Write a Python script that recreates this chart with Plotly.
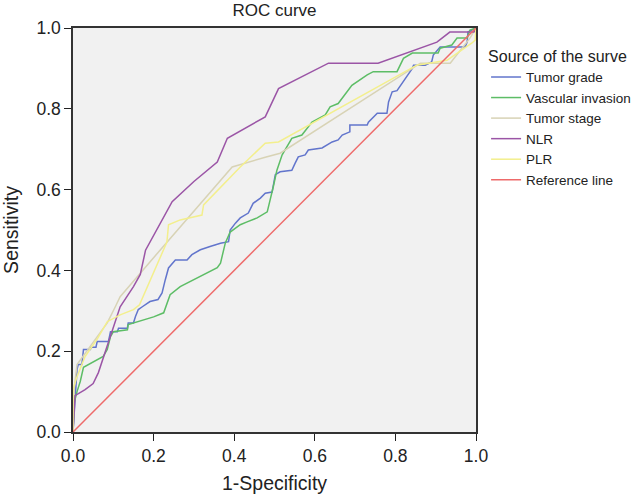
import plotly.graph_objects as go

# ROC points as (1-Specificity, Sensitivity)
tumor_grade = [(0, 0), (0.003, 0.05), (0.006, 0.097), (0.01, 0.155), (0.013, 0.167), (0.022, 0.167),
               (0.026, 0.204), (0.043, 0.204), (0.045, 0.21), (0.057, 0.21), (0.06, 0.224), (0.088, 0.224),
               (0.093, 0.248), (0.11, 0.248), (0.113, 0.257), (0.135, 0.257), (0.137, 0.27), (0.15, 0.27),
               (0.155, 0.286), (0.162, 0.303), (0.172, 0.31), (0.191, 0.323), (0.211, 0.328), (0.221, 0.344),
               (0.229, 0.377), (0.237, 0.406), (0.254, 0.426), (0.283, 0.426), (0.295, 0.439), (0.316, 0.451),
               (0.34, 0.459), (0.366, 0.467), (0.386, 0.471), (0.39, 0.5), (0.403, 0.517), (0.415, 0.53),
               (0.435, 0.542), (0.447, 0.566), (0.465, 0.579), (0.477, 0.591), (0.494, 0.594), (0.502, 0.637),
               (0.514, 0.644), (0.543, 0.648), (0.551, 0.665), (0.559, 0.681), (0.576, 0.686), (0.584, 0.698),
               (0.618, 0.703), (0.643, 0.718), (0.658, 0.723), (0.668, 0.735), (0.687, 0.743), (0.687, 0.76),
               (0.73, 0.76), (0.733, 0.767), (0.755, 0.789), (0.779, 0.789), (0.783, 0.817), (0.792, 0.842),
               (0.804, 0.845), (0.816, 0.863), (0.829, 0.882), (0.842, 0.9), (0.845, 0.908), (0.874, 0.908),
               (0.89, 0.916), (0.894, 0.933), (0.911, 0.953), (0.973, 0.953), (0.978, 0.965), (0.98, 0.99),
               (1.0, 1.0)]

vascular_invasion = [(0, 0), (0.003, 0.072), (0.01, 0.1), (0.018, 0.125), (0.026, 0.16), (0.048, 0.172),
                     (0.075, 0.187), (0.085, 0.204), (0.093, 0.236), (0.1, 0.248), (0.135, 0.253), (0.137, 0.266),
                     (0.16, 0.273), (0.2, 0.285), (0.225, 0.295), (0.229, 0.307), (0.241, 0.34), (0.266, 0.36),
                     (0.3, 0.377), (0.324, 0.39), (0.358, 0.407), (0.366, 0.418), (0.378, 0.468), (0.39, 0.495),
                     (0.415, 0.513), (0.432, 0.52), (0.457, 0.53), (0.482, 0.545), (0.49, 0.575), (0.497, 0.607),
                     (0.506, 0.648), (0.519, 0.686), (0.543, 0.727), (0.568, 0.735), (0.593, 0.767), (0.626, 0.785),
                     (0.638, 0.805), (0.658, 0.813), (0.692, 0.858), (0.73, 0.884), (0.745, 0.892), (0.804, 0.892),
                     (0.82, 0.925), (0.842, 0.938), (0.906, 0.938), (0.911, 0.95), (0.94, 0.958), (0.953, 0.975),
                     (0.978, 0.975), (0.985, 0.995), (1.0, 1.0)]

tumor_stage = [(0, 0), (0.003, 0.11), (0.01, 0.167), (0.085, 0.27), (0.105, 0.31), (0.117, 0.335),
               (0.216, 0.45), (0.395, 0.656), (0.477, 0.68), (0.514, 0.69), (0.862, 0.913), (0.936, 0.913),
               (0.985, 0.975), (1.0, 1.0)]

nlr = [(0, 0), (0.003, 0.05), (0.005, 0.09), (0.03, 0.105), (0.05, 0.12), (0.063, 0.147), (0.08, 0.2),
       (0.1, 0.26), (0.117, 0.31), (0.15, 0.36), (0.167, 0.39), (0.18, 0.45), (0.204, 0.495), (0.246, 0.57),
       (0.3, 0.62), (0.358, 0.668), (0.383, 0.727), (0.477, 0.78), (0.51, 0.85), (0.634, 0.913),
       (0.757, 0.913), (0.903, 0.965), (0.935, 0.99), (0.995, 0.99), (1.0, 1.0)]

plr = [(0, 0), (0.0, 0.105), (0.01, 0.137), (0.03, 0.187), (0.06, 0.23), (0.085, 0.273), (0.117, 0.29),
       (0.15, 0.303), (0.165, 0.315), (0.233, 0.47), (0.237, 0.513), (0.266, 0.525), (0.32, 0.537),
       (0.324, 0.562), (0.415, 0.656), (0.477, 0.715), (0.51, 0.718), (0.853, 0.908), (0.928, 0.92),
       (0.966, 0.945), (0.99, 0.963), (0.998, 0.97), (1.0, 1.0)]

reference_line = [(0, 0), (1, 1)]

series_names = ["Tumor grade", "Vascular invasion", "Tumor stage", "NLR", "PLR", "Reference line"]
series_data = [tumor_grade, vascular_invasion, tumor_stage, nlr, plr, reference_line]
series_colors = ["#6275cc", "#5dbd66", "#d8d3b5", "#9b55a6", "#f3ef8c", "#ee6a6a"]

tick_vals = [0, 0.2, 0.4, 0.6, 0.8, 1.0]
tick_text = ["0.0", "0.2", "0.4", "0.6", "0.8", "1.0"]

fig = go.Figure()
for name, pts, col in zip(series_names, series_data, series_colors):
    fig.add_trace(go.Scatter(
        x=[p[0] for p in pts], y=[p[1] for p in pts], mode="lines", name=name,
        line=dict(color=col, width=1.5)))

font_family = "Liberation Sans, Arial, sans-serif"
axis_common = dict(
    range=[0, 1], tickvals=tick_vals, ticktext=tick_text, ticks="outside", ticklen=7,
    tickcolor="#222", showgrid=False, zeroline=False, showline=True, linecolor="#333",
    linewidth=1.5, mirror=True, tickfont=dict(size=17.5, color="#222"),
)

fig.update_layout(
    width=638, height=496,
    margin=dict(l=73, r=162, t=28, b=64, autoexpand=False),
    paper_bgcolor="white", plot_bgcolor="#f1f1f1",
    font=dict(family=font_family, color="#222"),
    title=dict(text="ROC curve", x=(73 + 476) / 2 / 638, xanchor="center", y=0.979, yanchor="middle",
               font=dict(size=17, color="#222")),
    xaxis=dict(axis_common, title=dict(text="1-Specificity", font=dict(size=19.5), standoff=12)),
    yaxis=dict(axis_common, title=dict(text="Sensitivity", font=dict(size=19.5), standoff=14)),
    legend=dict(
        title=dict(text="Source of the surve", font=dict(size=16)),
        x=1.025, xanchor="left", y=0.968, yanchor="top", xref="paper",
        font=dict(size=13.5), bgcolor="rgba(0,0,0,0)", itemwidth=30, tracegroupgap=0,
    ),
    showlegend=True,
)

fig.write_html("out.html", config={"displayModeBar": False},
               post_script="document.body.style.margin='0px';document.body.style.overflow='hidden';")
